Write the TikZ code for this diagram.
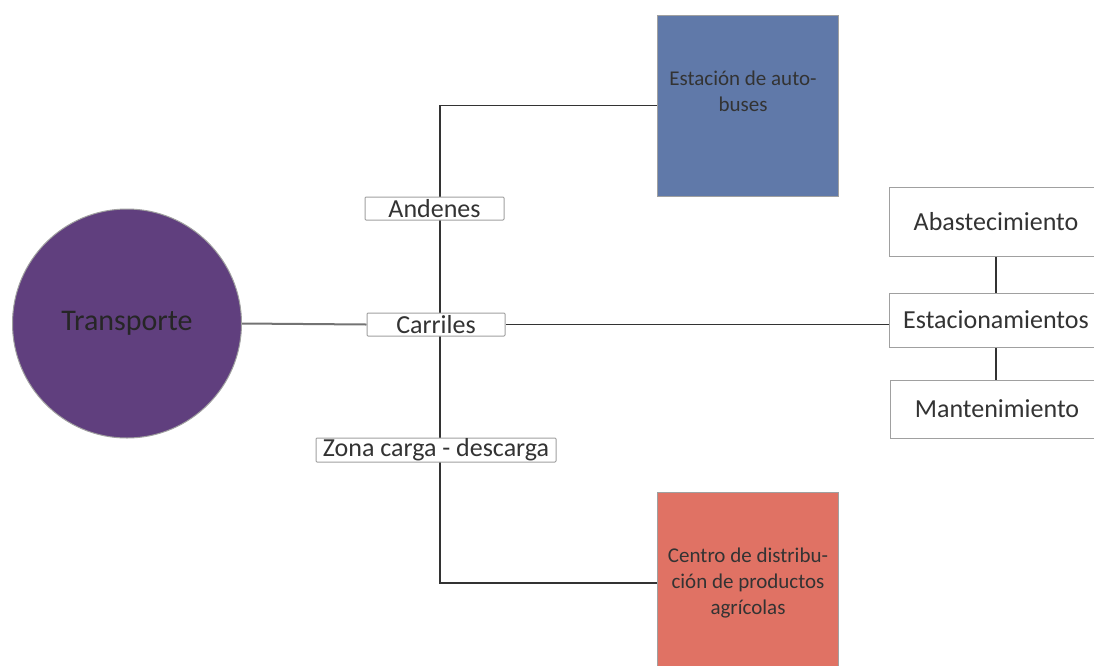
\documentclass[tikz,border=0pt]{standalone}
\usepackage{fontspec}
\setmainfont{Carlito}
\usetikzlibrary{backgrounds,calc}
\definecolor{purp}{HTML}{603F7E}
\definecolor{bluebox}{HTML}{6079A9}
\definecolor{redbox}{HTML}{E07264}
\definecolor{edge}{HTML}{A0A0A0}
\definecolor{ink}{HTML}{333333}
\tikzset{
  conn/.style={draw=ink, line width=1.5pt},
  tag/.style={draw=edge, fill=white, line width=1pt, rounded corners=1pt, inner sep=0pt, text=ink, font=\fontsize{26}{28}\selectfont},
  sidebox/.style={draw=edge, fill=white, line width=1pt, inner sep=0pt, minimum width=214pt, text=ink, font=\fontsize{26}{28}\selectfont},
  colbox/.style={draw=edge, line width=1pt, inner sep=0pt, minimum width=181pt, minimum height=181pt},
  boxtext/.style={align=center, text=ink, font=\fontsize{21}{26}\selectfont, inner sep=0pt}
}
\begin{document}
\begin{tikzpicture}[x=1pt,y=-1pt]
\useasboundingbox (0,0) rectangle (1094,665);
% circle
\node[circle, draw=edge, fill=purp, line width=1pt, minimum size=229pt, inner sep=0pt,
      text=black!85, font=\fontsize{30}{32}\selectfont] (trans) at (127,323.5) {Transporte};
% coloured boxes
\node[colbox, fill=bluebox] (blue) at (747.5,105.5) {};
\node[boxtext] (bluetxt) at (743,91) {Estación de auto-\\buses};
\node[colbox, boxtext, fill=redbox, minimum height=182pt] (red) at (748,583) {Centro de distribu-\\ción de productos\\agrícolas};
% tags on the spine
\coordinate (sp) at (440,0);
\node[tag, minimum width=139pt, minimum height=23pt] (andenes) at (434.5,208.5) {Andenes};
\node[tag, minimum width=138pt, minimum height=23pt] (carriles) at (436,324.5) {Carriles};
\node[tag, minimum width=240pt, minimum height=24pt] (zona) at (436,450) {Zona carga - descarga};
% right boxes
\node[sidebox, minimum height=69pt] (abast) at (996,221.5) {Abastecimiento};
\node[sidebox, minimum height=54pt] (estac) at (996,320) {Estacionamientos};
\node[sidebox, minimum height=58pt, xshift=1pt] (mant) at (996,409) {Mantenimiento};
\begin{scope}[on background layer]
\draw[conn] (blue.west) -| (andenes.north -| sp) -- (zona.south -| sp) |- (red.west);
\draw[conn, draw=black!55, line width=2pt] (trans.east) -- (carriles.west);
\draw[conn] (carriles.east) -- (carriles.east -| estac.west);
\draw[conn] (abast.south) -- (estac.north);
\draw[conn] (estac.south) -- (estac.south |- mant.north);
\end{scope}
\end{tikzpicture}
\end{document}
